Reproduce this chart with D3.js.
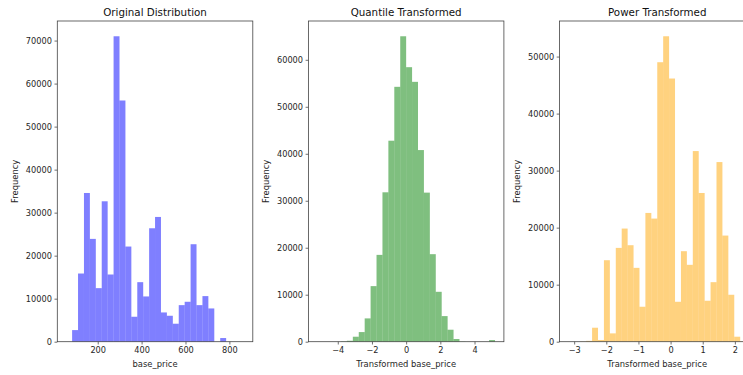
<!DOCTYPE html>
<html>
<head>
<meta charset="utf-8">
<script src="https://cdn.jsdelivr.net/npm/d3@7"></script>
<style>
  body { margin: 0; background: #fff; }
  svg { display: block; font-family: "DejaVu Sans", sans-serif; }
</style>
</head>
<body>
<div id="chart"></div>
<script>
// histogram counts, 30 bins each
const origCounts = [0, 2700, 15850, 34570, 23900, 12450, 32640, 15620, 71000, 56070,
    22120, 5800, 13840, 10520, 26370, 29000, 6800, 6030, 4180, 8500,
    9280, 22660, 8500, 10600, 7730, 0, 850, 0, 0, 0];
const quantCounts = [0, 0, 0, 0, 60, 200, 1060, 2050, 4960, 11830,
    18480, 31800, 42780, 54250, 65010, 58430, 55310, 40790, 31730, 18630,
    10620, 5450, 2550, 570, 40, 0, 0, 0, 0, 350];
const powerCounts = [0, 0, 40, 150, 2450, 300, 14290, 1460, 16450, 19840,
    16920, 12950, 6130, 22580, 21590, 49010, 53560, 46150, 7000, 15870,
    13480, 33430, 26080, 7180, 10440, 31500, 18610, 8230, 875, 60];

// data range (min, max) of each histogram
const origRange = [56.3, 866.2];
const quantRange = [-5.199, 5.199];
const powerRange = [-3.18, 2.35];

// tick labels
const origXTicks = [200, 400, 600, 800];
const origYTicks = [0, 10000, 20000, 30000, 40000, 50000, 60000, 70000];
const quantXTicks = [-4, -2, 0, 2, 4];
const quantYTicks = [0, 10000, 20000, 30000, 40000, 50000, 60000];
const powerXTicks = [-3, -2, -1, 0, 1, 2];
const powerYTicks = [0, 10000, 20000, 30000, 40000, 50000];

const titles = ["Original Distribution", "Quantile Transformed", "Power Transformed"];
const xLabels = ["base_price", "Transformed base_price", "Transformed base_price"];

const width = 743, height = 375;
const plotTop = 21, plotBottom = 341.7;
const panelW = 195.5;
const panelX = [57.3, 308.4, 559.5];

const svg = d3.select("#chart")
    .append("svg")
    .attr("width", width)
    .attr("height", height);

const panels = [
    {counts: origCounts, range: origRange, xt: origXTicks, yt: origYTicks, color: "blue"},
    {counts: quantCounts, range: quantRange, xt: quantXTicks, yt: quantYTicks, color: "green"},
    {counts: powerCounts, range: powerRange, xt: powerXTicks, yt: powerYTicks, color: "orange"},
];

const fmt = d3.format("");

panels.forEach((p, i) => {
    const n = p.counts.length;
    const step = (p.range[1] - p.range[0]) / n;
    const bins = p.counts.map((c, k) => ({x0: p.range[0] + k * step, x1: p.range[0] + (k + 1) * step, count: c}));
    const pad = (p.range[1] - p.range[0]) * 0.05;

    const x = d3.scaleLinear()
        .domain([p.range[0] - pad, p.range[1] + pad])
        .range([panelX[i], panelX[i] + panelW]);
    const y = d3.scaleLinear()
        .domain([0, d3.max(p.counts) * 1.05])
        .range([plotBottom, plotTop]);

    const g = svg.append("g");

    // bars
    g.selectAll("rect.bar")
        .data(bins.filter(d => d.count > 0))
        .join("rect")
        .attr("class", "bar")
        .attr("x", d => x(d.x0))
        .attr("width", d => x(d.x1) - x(d.x0))
        .attr("y", d => y(d.count))
        .attr("height", d => y(0) - y(d.count))
        .attr("fill", p.color)
        .attr("fill-opacity", 0.5);

    // axes
    const xAxis = g.append("g")
        .attr("transform", `translate(0,${plotBottom})`)
        .call(d3.axisBottom(x).tickValues(p.xt).tickFormat(fmt).tickSize(2.8).tickPadding(2.6));
    const yAxis = g.append("g")
        .attr("transform", `translate(${panelX[i]},0)`)
        .call(d3.axisLeft(y).tickValues(p.yt).tickFormat(fmt).tickSize(2.8).tickPadding(2.6));

    [xAxis, yAxis].forEach(a => {
        a.select(".domain").remove();
        a.selectAll(".tick line").attr("stroke", "#333").attr("stroke-width", 0.7);
        a.selectAll(".tick text")
            .attr("fill", "#262626")
            .style("font-size", "8.2px")
            .style("font-family", "DejaVu Sans, sans-serif");
    });

    // spines
    g.append("rect")
        .attr("x", panelX[i])
        .attr("y", plotTop)
        .attr("width", panelW)
        .attr("height", plotBottom - plotTop)
        .attr("fill", "none")
        .attr("stroke", "#444")
        .attr("stroke-width", 0.8);

    // title
    g.append("text")
        .attr("x", panelX[i] + panelW / 2)
        .attr("y", 15.6)
        .attr("text-anchor", "middle")
        .attr("fill", "#111")
        .style("font-size", "10.3px")
        .text(titles[i]);

    // x label
    g.append("text")
        .attr("x", panelX[i] + panelW / 2)
        .attr("y", 366.8)
        .attr("text-anchor", "middle")
        .attr("fill", "#262626")
        .style("font-size", "8.4px")
        .text(xLabels[i]);

    // y label
    g.append("text")
        .attr("transform", `translate(${panelX[i] - 39.6},${(plotTop + plotBottom) / 2}) rotate(-90)`)
        .attr("text-anchor", "middle")
        .attr("fill", "#262626")
        .style("font-size", "8.4px")
        .text("Frequency");
});
</script>
</body>
</html>
